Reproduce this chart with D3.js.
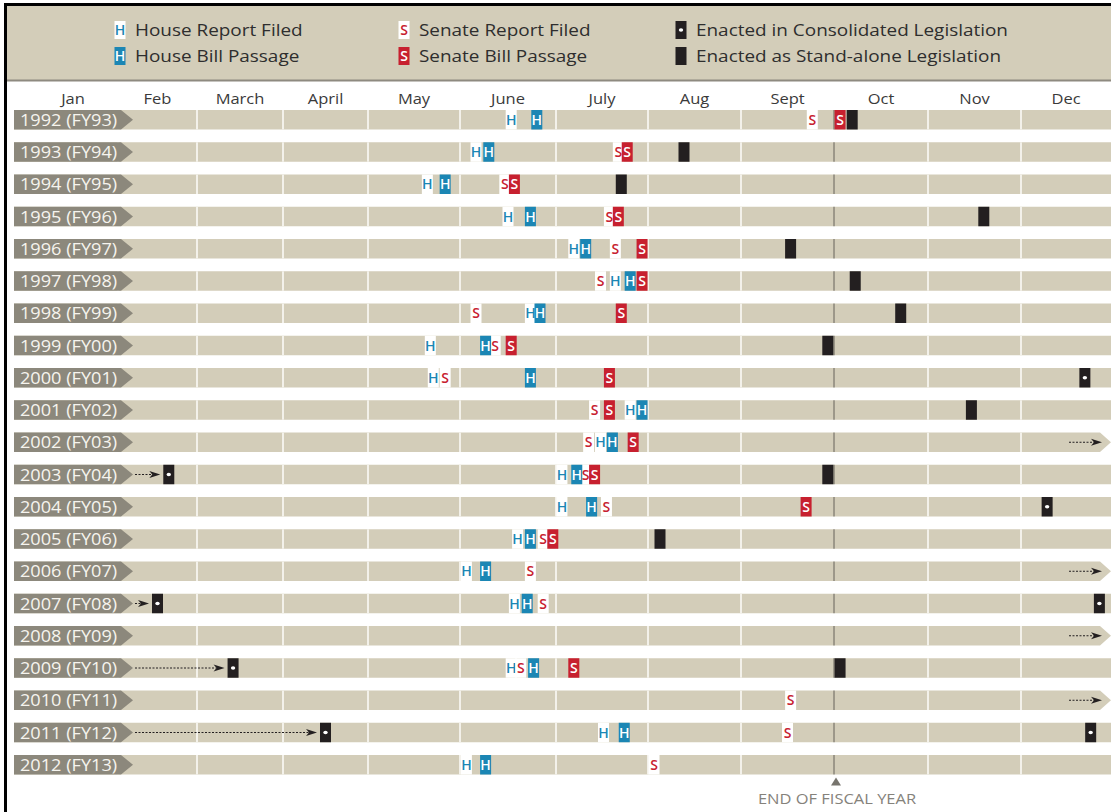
<!DOCTYPE html>
<html>
<head>
<meta charset="utf-8">
<script src="https://cdn.jsdelivr.net/npm/d3@7/dist/d3.min.js"></script>
<style>
  body { margin: 0; background: #fff; }
  text { font-family: "Open Sans", "Noto Sans", sans-serif; }
</style>
</head>
<body>
<div id="chart"></div>
<script>
// ---- data: [year, month, day] ----
var years = [1992, 1993, 1994, 1995, 1996, 1997, 1998, 1999, 2000, 2001, 2002,
  2003, 2004, 2005, 2006, 2007, 2008, 2009, 2010, 2011, 2012];
var yearLabels = ["1992 (FY93)", "1993 (FY94)", "1994 (FY95)", "1995 (FY96)", "1996 (FY97)",
  "1997 (FY98)", "1998 (FY99)", "1999 (FY00)", "2000 (FY01)", "2001 (FY02)", "2002 (FY03)",
  "2003 (FY04)", "2004 (FY05)", "2005 (FY06)", "2006 (FY07)", "2007 (FY08)", "2008 (FY09)",
  "2009 (FY10)", "2010 (FY11)", "2011 (FY12)", "2012 (FY13)"];
var months = ["Jan", "Feb", "March", "April", "May", "June", "July", "Aug", "Sept", "Oct", "Nov", "Dec"];

var houseReportFiled = [
  [1992, 6, 17], [1993, 6, 6], [1994, 5, 21], [1995, 6, 16], [1996, 7, 7], [1997, 7, 21],
  [1998, 6, 23], [1999, 5, 22], [2000, 5, 23], [2001, 7, 26], [2002, 7, 16], [2003, 7, 3],
  [2004, 7, 3], [2005, 6, 19], [2006, 6, 3], [2007, 6, 18], [2009, 6, 17], [2011, 7, 17],
  [2012, 6, 3]
];
var houseBillPassage = [
  [1992, 6, 25], [1993, 6, 10], [1994, 5, 27], [1995, 6, 23], [1996, 7, 11], [1997, 7, 26],
  [1998, 6, 26], [1999, 6, 9], [2000, 6, 23], [2001, 7, 30], [2002, 7, 20], [2003, 7, 8],
  [2004, 7, 13], [2005, 6, 23], [2006, 6, 9], [2007, 6, 22], [2009, 6, 24], [2011, 7, 24],
  [2012, 6, 9]
];
var senateReportFiled = [
  [1992, 9, 24], [1993, 7, 22], [1994, 6, 15], [1995, 7, 19], [1996, 7, 21], [1997, 7, 16],
  [1998, 6, 6], [1999, 6, 12], [2000, 5, 27], [2001, 7, 14], [2002, 7, 12], [2003, 7, 11],
  [2004, 7, 18], [2005, 6, 27], [2006, 6, 23], [2007, 6, 27], [2009, 6, 20], [2010, 9, 17],
  [2011, 9, 16], [2012, 8, 3]
];
var senateBillPassage = [
  [1992, 10, 3], [1993, 7, 25], [1994, 6, 18], [1995, 7, 22], [1996, 7, 30], [1997, 7, 30],
  [1998, 7, 23], [1999, 6, 17], [2000, 7, 19], [2001, 7, 19], [2002, 7, 27], [2003, 7, 14],
  [2004, 9, 22], [2005, 6, 30], [2009, 7, 7]
];
var enactedConsolidated = [
  [2000, 12, 23], [2003, 2, 19], [2004, 12, 10], [2007, 2, 15], [2007, 12, 28],
  [2009, 3, 14], [2011, 4, 16], [2011, 12, 25]
];
var enactedStandalone = [
  [1992, 10, 7], [1993, 8, 13], [1994, 7, 23], [1995, 11, 19], [1996, 9, 17], [1997, 10, 8],
  [1998, 10, 23], [1999, 9, 29], [2001, 11, 15], [2003, 9, 29], [2005, 8, 5], [2009, 10, 3]
];
// years whose bill was still not enacted on Dec 31 (carried into next row)
var carriedOver = [2002, 2006, 2008, 2010];

// ---- layout ----
var svgWidth = 1111;
var svgHeight = 812;
var monthEdges = [28, 118, 197, 283, 368, 460, 556, 648, 741, 834, 928, 1021, 1111];
var rowTop = 110, rowStep = 32.25, rowH = 19.5;
var labelX = 14, labelTip = 133;
var markW = 11;
var stretch = 1.1;   // the original lettering is set a little wide

var colors = {
  tan: "#d3cdb9",
  label: "#8c887c",
  blue: "#1b86b4",
  red: "#c7202f",
  black: "#231f20",
  fiscal: "#67635a"
};

var svg = d3.select("#chart")
  .append("svg")
  .attr("width", svgWidth)
  .attr("height", svgHeight);

svg.append("rect").attr("width", svgWidth).attr("height", svgHeight).attr("fill", "#fff");

// month scale: piecewise linear between month boundaries
var xScale = d3.scaleLinear()
  .domain(d3.range(13))
  .range(monthEdges);

function dateX(m, d) {
  var days = new Date(2001, m, 0).getDate();
  return xScale((m - 1) + (d - 1) / days);
}

var yScale = d3.scaleBand()
  .domain(years)
  .range([rowTop, rowTop + (years.length - 1) * rowStep + rowH])
  .paddingInner(1 - rowH / rowStep)
  .paddingOuter(0);

function stretchedText(g, x, y, str) {
  return g.append("text")
    .attr("transform", `translate(${x},${y}) scale(${stretch},1)`)
    .text(str);
}

// ---- marker drawing ----
function drawMarker(g, type, cx, top, h) {
  var x0 = cx - markW / 2;
  var fill, letter = null, letterColor = "#fff";
  if (type === "hr") { fill = "#fff"; letter = "H"; letterColor = colors.blue; }
  else if (type === "hp") { fill = colors.blue; letter = "H"; }
  else if (type === "sr") { fill = "#fff"; letter = "S"; letterColor = colors.red; }
  else if (type === "sp") { fill = colors.red; letter = "S"; }
  else { fill = colors.black; }

  g.append("rect")
    .attr("x", x0)
    .attr("y", top)
    .attr("width", markW)
    .attr("height", h)
    .attr("fill", fill);

  if (letter) {
    g.append("text")
      .attr("x", cx)
      .attr("y", top + h / 2 + 5)
      .attr("text-anchor", "middle")
      .attr("font-size", 14)
      .attr("font-weight", 600)
      .attr("fill", letterColor)
      .text(letter);
  }
  if (type === "ec") {
    g.append("ellipse")
      .attr("cx", cx)
      .attr("cy", top + h / 2)
      .attr("rx", 2.2)
      .attr("ry", 1.8)
      .attr("fill", "#fff");
  }
}

function drawArrow(g, x1, x2, cy) {
  g.append("line")
    .attr("x1", x1)
    .attr("x2", x2 - 8)
    .attr("y1", cy)
    .attr("y2", cy)
    .attr("stroke", colors.black)
    .attr("stroke-width", 1)
    .attr("stroke-dasharray", "2,1.5");
  g.append("path")
    .attr("d", `M${x2},${cy} L${x2 - 11},${cy - 3.5} L${x2 - 8},${cy} L${x2 - 11},${cy + 3.5} Z`)
    .attr("fill", colors.black);
}

// ---- legend band ----
svg.append("rect")
  .attr("x", 5)
  .attr("y", 5)
  .attr("width", svgWidth - 5)
  .attr("height", 75)
  .attr("fill", colors.tan);
svg.append("line")
  .attr("x1", 5).attr("x2", svgWidth)
  .attr("y1", 80.5).attr("y2", 80.5)
  .attr("stroke", "#8e8a80")
  .attr("stroke-width", 2);
svg.append("line")
  .attr("x1", 4).attr("x2", svgWidth)
  .attr("y1", 4.5).attr("y2", 4.5)
  .attr("stroke", "#000")
  .attr("stroke-width", 3);
svg.append("line")
  .attr("x1", 5.5).attr("x2", 5.5)
  .attr("y1", 3).attr("y2", svgHeight)
  .attr("stroke", "#000")
  .attr("stroke-width", 3);

var legendItems = [
  { type: "hr", text: "House Report Filed" },
  { type: "hp", text: "House Bill Passage" },
  { type: "sr", text: "Senate Report Filed" },
  { type: "sp", text: "Senate Bill Passage" },
  { type: "ec", text: "Enacted in Consolidated Legislation" },
  { type: "es", text: "Enacted as Stand-alone Legislation" }
];
var legendCols = [120, 404, 681];
var legendRows = [30, 56];

var legend = svg.append("g");
legendItems.forEach(function(item, i) {
  var cx = legendCols[Math.floor(i / 2)];
  var cy = legendRows[i % 2];
  drawMarker(legend, item.type, cx, cy - 9, 18);
  stretchedText(legend, cx + 15, cy + 6, item.text)
    .attr("font-size", 17.2)
    .attr("fill", "#2e2e2e");
});

// ---- month labels ----
svg.append("g")
  .selectAll("text")
  .data(months)
  .enter()
  .each(function(m, i) {
    stretchedText(d3.select(this), xScale(i + 0.5), 104, m)
      .attr("text-anchor", "middle")
      .attr("font-size", 15)
      .attr("fill", "#3a3a3a");
  });

// ---- rows ----
var rowsGroup = svg.append("g");
var barEnd = svgWidth + 1;

years.forEach(function(yr, i) {
  var g = rowsGroup.append("g");
  var top = yScale(yr);
  var h = yScale.bandwidth();
  var cy = top + h / 2;
  var carries = carriedOver.indexOf(yr) >= 0;

  // tan bar, pointed at the right when the bill carries into next year
  var barPath = carries
    ? `M${labelX},${top} H${barEnd - 12} L${barEnd - 1},${cy} L${barEnd - 12},${top + h} H${labelX} Z`
    : `M${labelX},${top} H${barEnd} V${top + h} H${labelX} Z`;
  g.append("path").attr("d", barPath).attr("fill", colors.tan);

  // month separators
  d3.range(1, 12).forEach(function(k) {
    if (k === 9) return;
    g.append("line")
      .attr("x1", xScale(k)).attr("x2", xScale(k))
      .attr("y1", top).attr("y2", top + h)
      .attr("stroke", "#f3f1ea")
      .attr("stroke-width", 2);
  });
  // end of fiscal year (Oct 1)
  g.append("line")
    .attr("x1", xScale(9)).attr("x2", xScale(9))
    .attr("y1", top).attr("y2", top + h)
    .attr("stroke", colors.fiscal)
    .attr("stroke-width", 1);

  var layers = [
    [houseReportFiled, "hr"], [senateReportFiled, "sr"],
    [houseBillPassage, "hp"], [senateBillPassage, "sp"],
    [enactedStandalone, "es"], [enactedConsolidated, "ec"]
  ];
  layers.forEach(function(layer) {
    layer[0].filter(function(d) { return d[0] === yr; }).forEach(function(d) {
      drawMarker(g, layer[1], dateX(d[1], d[2]), top, h);
    });
  });

  // arrow coming in from the previous year
  if (carriedOver.indexOf(yr - 1) >= 0) {
    var first = enactedConsolidated.filter(function(d) { return d[0] === yr; })[0];
    if (first) {
      drawArrow(g, labelTip + 2, dateX(first[1], first[2]) - markW / 2 - 3, cy);
    }
  }
  // arrow going out to the next year
  if (carries) {
    drawArrow(g, barEnd - 43, barEnd - 10, cy);
  }

  // year label chevron
  g.append("path")
    .attr("d", `M${labelX},${top} H${labelTip - 12} L${labelTip},${cy} L${labelTip - 12},${top + h} H${labelX} Z`)
    .attr("fill", colors.label);
  stretchedText(g, labelX + 6, cy + 6, yearLabels[i])
    .attr("font-size", 16.5)
    .attr("fill", "#f6f4ee");
});

// ---- end of fiscal year note ----
var fx = xScale(9) + 2;
var lastBottom = yScale(years[years.length - 1]) + yScale.bandwidth();
svg.append("path")
  .attr("d", `M${fx - 5},${lastBottom + 11} L${fx + 5},${lastBottom + 11} L${fx},${lastBottom + 3} Z`)
  .attr("fill", "#77746d");
stretchedText(svg, fx + 1, lastBottom + 29, "END OF FISCAL YEAR")
  .attr("text-anchor", "middle")
  .attr("font-size", 15)
  .attr("fill", "#85827b");
</script>
</body>
</html>
